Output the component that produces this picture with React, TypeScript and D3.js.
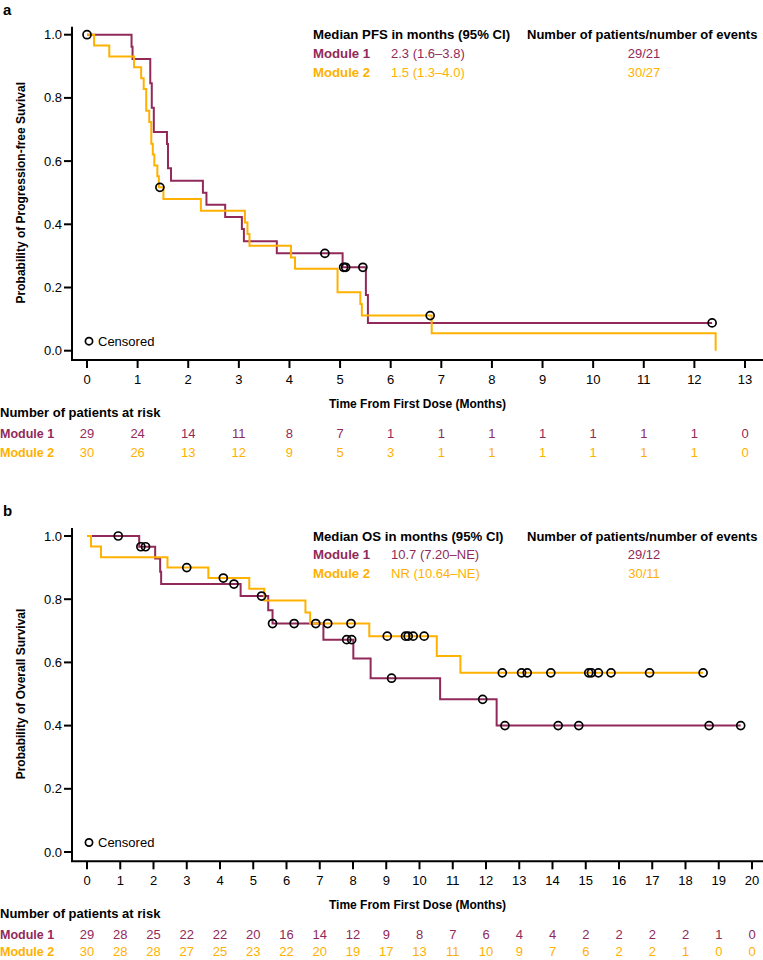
import React from "react";
import * as d3 from "d3";

// ---------- DATA ----------
const moduleNames = ["Module 1", "Module 2"];

// Panel a: PFS (step times, survival after each step)
const pfsTimeM1 = [0.88, 0.9, 1.25, 1.28, 1.32, 1.58, 1.6, 1.66, 2.29, 2.36, 2.73, 3.06, 3.1, 3.75, 5.05, 5.51, 5.55];
const pfsSurvM1 = [0.962, 0.923, 0.846, 0.769, 0.692, 0.654, 0.577, 0.538, 0.5, 0.462, 0.423, 0.385, 0.346, 0.308, 0.264, 0.176, 0.088];
const pfsEndM1 = 12.35;
const pfsCensTimeM1 = [0, 4.7, 5.07, 5.11, 5.45, 12.35];
const pfsCensSurvM1 = [1, 0.308, 0.264, 0.264, 0.264, 0.088];

const pfsTimeM2 = [0.14, 0.44, 0.93, 1.07, 1.12, 1.17, 1.23, 1.27, 1.3, 1.33, 1.39, 1.42, 1.51, 2.25, 3.12, 3.17, 3.21, 4.03, 4.11, 4.95, 5.4, 5.43, 6.81, 12.42];
const pfsSurvM2 = [0.966, 0.931, 0.897, 0.862, 0.828, 0.759, 0.724, 0.655, 0.621, 0.586, 0.552, 0.517, 0.48, 0.443, 0.406, 0.369, 0.332, 0.295, 0.259, 0.185, 0.148, 0.111, 0.055, 0];
const pfsEndM2 = 12.42;
const pfsCensTimeM2 = [1.44, 6.78];
const pfsCensSurvM2 = [0.517, 0.111];

const pfsTicks = [0, 1, 2, 3, 4, 5, 6, 7, 8, 9, 10, 11, 12, 13];
const pfsRiskM1 = [29, 24, 14, 11, 8, 7, 1, 1, 1, 1, 1, 1, 1, 0];
const pfsRiskM2 = [30, 26, 13, 12, 9, 5, 3, 1, 1, 1, 1, 1, 1, 0];
const pfsMedian = ["2.3 (1.6\u20133.8)", "1.5 (1.3\u20134.0)"];
const pfsCounts = ["29/21", "30/27"];

// Panel b: OS
const osTimeM1 = [1.57, 2.05, 2.2, 2.23, 4.62, 5.45, 5.58, 7.11, 8.01, 8.53, 10.62, 12.32];
const osSurvM1 = [0.966, 0.929, 0.887, 0.848, 0.81, 0.765, 0.723, 0.672, 0.612, 0.55, 0.483, 0.4];
const osEndM1 = 19.66;
const osCensTimeM1 = [0.94, 1.62, 1.76, 4.42, 5.25, 5.58, 6.23, 6.88, 7.81, 7.96, 9.16, 11.9, 12.57, 14.17, 14.79, 18.71, 19.66];
const osCensSurvM1 = [1, 0.966, 0.966, 0.848, 0.81, 0.723, 0.723, 0.723, 0.672, 0.672, 0.55, 0.483, 0.4, 0.4, 0.4, 0.4, 0.4];

const osTimeM2 = [0.12, 0.42, 2.42, 3.65, 4.88, 5.33, 6.57, 6.71, 8.49, 10.52, 11.23];
const osSurvM2 = [0.967, 0.933, 0.9, 0.867, 0.833, 0.796, 0.758, 0.723, 0.683, 0.62, 0.567];
const osEndM2 = 18.53;
const osCensTimeM2 = [3.0, 4.1, 7.24, 7.94, 9.03, 9.58, 9.66, 9.81, 10.14, 12.49, 13.07, 13.24, 13.95, 15.09, 15.17, 15.38, 15.76, 16.92, 18.53];
const osCensSurvM2 = [0.9, 0.867, 0.723, 0.723, 0.683, 0.683, 0.683, 0.683, 0.683, 0.567, 0.567, 0.567, 0.567, 0.567, 0.567, 0.567, 0.567, 0.567, 0.567];

const osTicks = [0, 1, 2, 3, 4, 5, 6, 7, 8, 9, 10, 11, 12, 13, 14, 15, 16, 17, 18, 19, 20];
const osRiskM1 = [29, 28, 25, 22, 22, 20, 16, 14, 12, 9, 8, 7, 6, 4, 4, 2, 2, 2, 2, 1, 0];
const osRiskM2 = [30, 28, 28, 27, 25, 23, 22, 20, 19, 17, 13, 11, 10, 9, 7, 6, 2, 2, 1, 0, 0];
const osMedian = ["10.7 (7.20\u2013NE)", "NR (10.64\u2013NE)"];
const osCounts = ["29/12", "30/11"];

const yTicks = [0, 0.2, 0.4, 0.6, 0.8, 1.0];

// ---------- STYLE ----------
const C1 = "#912A5B";
const C2 = "#FFB100";
const REG = "'Liberation Sans', Arial, sans-serif";

function stepPath(x, y, times, surv, end) {
  let p = `M${x(0)},${y(1)}`;
  times.forEach((t, i) => {
    p += `H${x(t)}V${y(surv[i])}`;
  });
  p += `H${x(end)}`;
  return p;
}

function Panel({ letter, top, xMax, xPx, ticks, yTitle, legendTitle, medians, counts, curves, risks, rowGap }) {
  const x = d3.scaleLinear().domain([0, xMax]).range([87, xPx]);
  const y = d3.scaleLinear().domain([0, 1]).range([top + 316, top]);
  const axisY = top + 325.3;
  const axisX = 72;
  const colors = [C1, C2];
  return (
    <g fontFamily={REG}>
      <text x={3} y={top - 20} fontWeight="bold" fontSize={15}>{letter}</text>
      {curves.map((c, i) => (
        <path key={i} d={stepPath(x, y, c.times, c.surv, c.end)} fill="none" stroke={colors[i]} strokeWidth={2} />
      ))}
      {curves.map((c, i) =>
        c.censT.map((t, j) => (
          <circle key={`${i}-${j}`} cx={x(t)} cy={y(c.censS[j])} r={4} fill="none" stroke="#000" strokeWidth={1.7} />
        ))
      )}
      {/* y axis */}
      <line x1={axisX} x2={axisX} y1={top - 8} y2={axisY} stroke="#000" strokeWidth={2} />
      {yTicks.map((v) => (
        <g key={v}>
          <line x1={axisX - 8} x2={axisX} y1={y(v)} y2={y(v)} stroke="#000" strokeWidth={2} />
          <text x={axisX - 10} y={y(v) + 4.5} textAnchor="end" fontSize={13}>{v.toFixed(1)}</text>
        </g>
      ))}
      <text transform={`translate(25,${(y(0) + y(1)) / 2}) rotate(-90)`} textAnchor="middle" fontWeight="bold" fontSize={12}>{yTitle}</text>
      {/* x axis */}
      <line x1={axisX - 1} x2={763} y1={axisY} y2={axisY} stroke="#000" strokeWidth={2} />
      {ticks.map((t) => (
        <g key={t}>
          <line x1={x(t)} x2={x(t)} y1={axisY} y2={axisY + 8} stroke="#000" strokeWidth={2} />
          <text x={x(t)} y={axisY + 24} textAnchor="middle" fontSize={13}>{t}</text>
        </g>
      ))}
      <text x={417.5} y={axisY + 48} textAnchor="middle" fontWeight="bold" fontSize={12}>Time From First Dose (Months)</text>
      {/* censored legend */}
      <circle cx={89} cy={top + 306.5} r={3.6} fill="none" stroke="#000" strokeWidth={1.7} />
      <text x={98} y={top + 311} fontSize={13}>Censored</text>
      {/* legend */}
      <text x={313} y={top + 4.5} fontWeight="bold" fontSize={13.2}>{legendTitle}</text>
      <text x={527} y={top + 4.5} fontWeight="bold" fontSize={13}>Number of patients/number of events</text>
      {moduleNames.map((m, i) => (
        <g key={m}>
          <text x={313} y={top + 23 + i * 19} fontWeight="bold" fontSize={13.2} fill={colors[i]}>{m}</text>
          <text x={391} y={top + 23 + i * 19} fontSize={13} fill={colors[i]}>{medians[i]}</text>
          <text x={644} y={top + 23 + i * 19} textAnchor="middle" fontSize={13} fill={colors[i]}>{counts[i]}</text>
        </g>
      ))}
      {/* at risk table */}
      <text x={0} y={axisY + 56.5} fontWeight="bold" fontSize={13}>Number of patients at risk</text>
      {moduleNames.map((m, i) => (
        <g key={m}>
          <text x={0} y={axisY + 77.5 + i * rowGap} fontWeight="bold" fontSize={12.5} fill={colors[i]}>{m}</text>
          {ticks.map((t, j) => (
            <text key={t} x={x(t)} y={axisY + 77.5 + i * rowGap} textAnchor="middle" fontSize={13} fill={colors[i]}>{risks[i][j]}</text>
          ))}
        </g>
      ))}
    </g>
  );
}

export default function App() {
  return (
    <svg width={763} height={960} style={{ position: "absolute", left: 0, top: 0, background: "#fff" }}>
      <rect width={763} height={960} fill="#fff" />
      <Panel
        letter="a"
        top={34.7}
        xMax={13}
        xPx={745}
        ticks={pfsTicks}
        yTitle="Probability of Progression-free Suvival"
        legendTitle="Median PFS in months (95% CI)"
        medians={pfsMedian}
        counts={pfsCounts}
        rowGap={19}
        curves={[
          { times: pfsTimeM1, surv: pfsSurvM1, end: pfsEndM1, censT: pfsCensTimeM1, censS: pfsCensSurvM1 },
          { times: pfsTimeM2, surv: pfsSurvM2, end: pfsEndM2, censT: pfsCensTimeM2, censS: pfsCensSurvM2 },
        ]}
        risks={[pfsRiskM1, pfsRiskM2]}
      />
      <Panel
        letter="b"
        top={536}
        xMax={20}
        xPx={752}
        ticks={osTicks}
        yTitle="Probability of Overall Survival"
        legendTitle="Median OS in months (95% CI)"
        medians={osMedian}
        counts={osCounts}
        rowGap={17.5}
        curves={[
          { times: osTimeM1, surv: osSurvM1, end: osEndM1, censT: osCensTimeM1, censS: osCensSurvM1 },
          { times: osTimeM2, surv: osSurvM2, end: osEndM2, censT: osCensTimeM2, censS: osCensSurvM2 },
        ]}
        risks={[osRiskM1, osRiskM2]}
      />
    </svg>
  );
}
